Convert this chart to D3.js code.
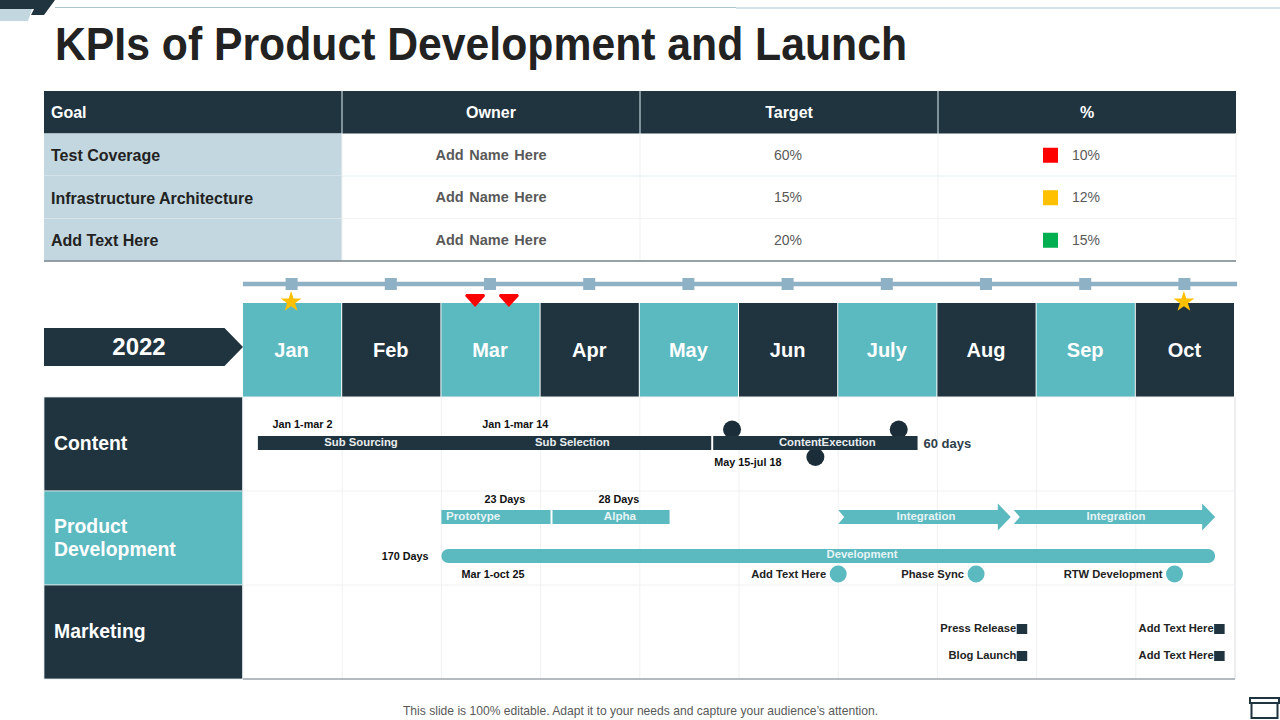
<!DOCTYPE html>
<html>
<head>
<meta charset="utf-8">
<script src="https://d3js.org/d3.v7.min.js"></script>
<style>
  html, body { margin: 0; padding: 0; background: #fff; }
  svg { display: block; }
  text { font-family: "Liberation Sans", Arial, sans-serif; }
</style>
</head>
<body>
<div id="chart"></div>
<script>
// table
var columns = ['Goal', 'Owner', 'Target', '%'];
var goals = ['Test Coverage', 'Infrastructure Architecture', 'Add Text Here'];
var owners = ['Add Name Here', 'Add Name Here', 'Add Name Here'];
var targets = ['60%', '15%', '20%'];
var actuals = ['10%', '12%', '15%'];
var statuses = ['red', 'amber', 'green'];

// timeline, all task positions are in months from Jan 1
var year = '2022';
var months = ['Jan', 'Feb', 'Mar', 'Apr', 'May', 'Jun', 'July', 'Aug', 'Sep', 'Oct'];
var starMonths = ['Jan', 'Oct'];
var flagDates = [2.34, 2.68];
var rows = ['Content', 'Product Development', 'Marketing'];

var contentBars = [
    { name: 'Sub Sourcing', start: 0.15, end: 2.31, labelAt: 1.19 },
    { name: 'Sub Selection', start: 2.3, end: 4.72, labelAt: 3.32 },
    { name: 'ContentExecution', start: 4.74, end: 6.8, labelAt: 5.89 }
];
var milestones = [
    { date: 4.93, lane: 'dotHigh' },
    { date: 6.61, lane: 'dotHigh' },
    { date: 5.77, lane: 'dotLow' }
];
var devBars = [
    { name: 'Prototype', start: 2.0, end: 3.1, labelAt: 2.32 },
    { name: 'Alpha', start: 3.12, end: 4.3, labelAt: 3.8 }
];
var arrows = [
    { name: 'Integration', start: 6.0, end: 7.74 },
    { name: 'Integration', start: 7.77, end: 9.8 }
];
var development = { name: 'Development', start: 2.0, end: 9.8, labelAt: 6.24 };
var devMarkers = [
    { name: 'Add Text Here', date: 6.0 },
    { name: 'Phase Sync', date: 7.39 },
    { name: 'RTW Development', date: 9.39 }
];
var launchMarkers = [
    { name: 'Press Release', date: 7.85, lane: 'pressRow' },
    { name: 'Blog Launch', date: 7.85, lane: 'blogRow' },
    { name: 'Add Text Here', date: 9.84, lane: 'pressRow' },
    { name: 'Add Text Here', date: 9.84, lane: 'blogRow' }
];
var notes = [
    { text: 'Jan 1-mar 2', date: 0.6, lane: 'noteTop', anchor: 'middle' },
    { text: 'Jan 1-mar 14', date: 2.745, lane: 'noteTop', anchor: 'middle' },
    { text: 'May 15-jul 18', date: 4.75, lane: 'noteBelow', anchor: 'start' },
    { text: '23 Days', date: 2.64, lane: 'daysTop', anchor: 'middle' },
    { text: '28 Days', date: 3.79, lane: 'daysTop', anchor: 'middle' },
    { text: '170 Days', date: 1.635, lane: 'dev', anchor: 'middle' },
    { text: 'Mar 1-oct 25', date: 2.52, lane: 'devBelow', anchor: 'middle' }
];

var dark = '#20343f', teal = '#5bb9c0', steel = '#8fb1c6', pale = '#c3d7e0', grid = '#f0f1f2';

var svg = d3.select('#chart').append('svg').attr('width', 1280).attr('height', 720);

// scales
var tableX = d3.scaleBand().domain(columns).range([44, 1236]);
var tableY = d3.scaleBand().domain(['head'].concat(goals)).range([91, 261]);
var statusColor = d3.scaleOrdinal().domain(statuses).range(['#ff0000', '#ffc000', '#00b050']);
var x = d3.scaleLinear().domain([0, months.length]).range([243, 1235]);
var rowY = d3.scaleBand().domain(rows).range([397, 679]);
var lane = d3.scaleOrdinal()
    .domain(['noteTop', 'dotHigh', 'content', 'dotLow', 'noteBelow', 'daysTop', 'sprint', 'dev', 'devBelow', 'pressRow', 'blogRow'])
    .range([424, 429.5, 443, 457, 462, 499, 517, 556, 574, 629, 656]);

function label(g, px, py, text, size, color, anchor, weight) {
    return g.append('text')
        .attr('x', px).attr('y', py)
        .attr('dy', '0.35em')
        .attr('text-anchor', anchor || 'middle')
        .attr('font-size', size)
        .attr('font-weight', weight || 'normal')
        .attr('fill', color)
        .text(text);
}

// slide decoration
var deco = svg.append('g');
deco.append('path').attr('d', 'M0,9H32L28,21H0Z').attr('fill', pale);
deco.append('path').attr('d', 'M0,0H55L44,15H31L34,9H0Z').attr('fill', dark);
deco.append('line').attr('x1', 55).attr('x2', 736).attr('y1', 7.5).attr('y2', 7.5).attr('stroke', '#a9c6d0').attr('stroke-width', 1);
deco.append('line').attr('x1', 736).attr('x2', 1280).attr('y1', 8).attr('y2', 8).attr('stroke', '#c3dbe0').attr('stroke-width', 1.5);

svg.append('text')
    .attr('x', 55).attr('y', 60)
    .attr('font-family', 'Lato, "Open Sans", sans-serif')
    .attr('font-size', 46).attr('font-weight', 700)
    .attr('fill', '#222')
    .attr('textLength', 852).attr('lengthAdjust', 'spacingAndGlyphs')
    .text('KPIs of Product Development and Launch');

// table
var table = svg.append('g');
table.selectAll('.head').data(columns).enter().append('rect')
    .attr('x', function (d) { return tableX(d); })
    .attr('y', tableY('head'))
    .attr('width', tableX.bandwidth())
    .attr('height', tableY.bandwidth())
    .attr('fill', dark);
columns.forEach(function (c, i) {
    if (i > 0) {
        table.append('line').attr('x1', tableX(c)).attr('x2', tableX(c))
            .attr('y1', 91).attr('y2', tableY.range()[0] + tableY.bandwidth())
            .attr('stroke', '#9fb0b8').attr('stroke-width', 1.5);
    }
    if (i === 0) {
        label(table, tableX(c) + 7, tableY('head') + tableY.bandwidth() / 2, c, 16, '#fff', 'start', 'bold');
    } else {
        label(table, tableX(c) + tableX.bandwidth() / 2, tableY('head') + tableY.bandwidth() / 2, c, 16, '#fff', 'middle', 'bold');
    }
});
goals.forEach(function (goal, i) {
    var rowTop = tableY(goal), mid = rowTop + tableY.bandwidth() / 2;
    table.append('rect').attr('x', tableX('Goal')).attr('y', rowTop)
        .attr('width', tableX.bandwidth()).attr('height', tableY.bandwidth())
        .attr('fill', pale);
    table.append('line').attr('x1', 44).attr('x2', 1236).attr('y1', rowTop + tableY.bandwidth()).attr('y2', rowTop + tableY.bandwidth())
        .attr('stroke', i === 0 ? '#e4eef2' : '#f1f2f3').attr('stroke-width', 1);
    label(table, tableX('Goal') + 7, mid + 1, goal, 16, '#222', 'start', 'bold');
    label(table, tableX('Owner') + tableX.bandwidth() / 2, mid, owners[i], 14.5, '#595959', 'middle', 'bold')
        .attr('word-spacing', 1.6);
    label(table, tableX('Target') + tableX.bandwidth() / 2 - 1, mid, targets[i], 14, '#595959');
    table.append('rect')
        .attr('x', tableX('%') + 105).attr('y', mid - 7)
        .attr('width', 15).attr('height', 15)
        .attr('fill', statusColor(statuses[i]));
    label(table, tableX('%') + 134, mid, actuals[i], 14, '#595959', 'start');
});
['Target', '%'].concat(['Owner']).forEach(function (c) {
    table.append('line').attr('x1', tableX(c)).attr('x2', tableX(c)).attr('y1', 133).attr('y2', 261).attr('stroke', grid);
});
table.append('line').attr('x1', 1236).attr('x2', 1236).attr('y1', 133).attr('y2', 261).attr('stroke', grid);
table.append('line').attr('x1', 44).attr('x2', 1236).attr('y1', 261).attr('y2', 261).attr('stroke', '#77838a').attr('stroke-width', 1.5);

// month header
var header = svg.append('g');
header.append('line').attr('x1', 243).attr('x2', 1237).attr('y1', 284).attr('y2', 284)
    .attr('stroke', steel).attr('stroke-width', 4.5);
header.selectAll('.tick-mark').data(months).enter().append('rect')
    .attr('x', function (d, i) { return x(i + 0.5) - 7; })
    .attr('y', 278).attr('width', 12).attr('height', 12)
    .attr('fill', steel);
header.selectAll('.month').data(months).enter().append('rect')
    .attr('x', function (d, i) { return x(i); })
    .attr('y', 303)
    .attr('width', x(1) - x(0) - 1)
    .attr('height', 94)
    .attr('fill', function (d, i) { return i % 2 ? dark : teal; });
header.selectAll('.month-name').data(months).enter().append('text')
    .attr('x', function (d, i) { return x(i + 0.5) - 1; })
    .attr('y', 350).attr('dy', '0.35em')
    .attr('text-anchor', 'middle')
    .attr('font-size', 20).attr('font-weight', 'bold')
    .attr('fill', '#fff')
    .text(function (d) { return d; });

// year tag
header.append('path').attr('d', 'M44,328H224.5L243,347L224.5,366H44Z').attr('fill', dark);
label(header, 139, 347, year, 24, '#fff', 'middle', 'bold');

// row grid
var gridG = svg.append('g');
months.forEach(function (m, i) {
    gridG.append('line').attr('x1', x(i)).attr('x2', x(i)).attr('y1', 397).attr('y2', 679).attr('stroke', grid);
});
gridG.append('line').attr('x1', x(10)).attr('x2', x(10)).attr('y1', 397).attr('y2', 679).attr('stroke', '#d9dde0');
rows.forEach(function (r) {
    gridG.append('line').attr('x1', 243).attr('x2', 1235).attr('y1', rowY(r)).attr('y2', rowY(r)).attr('stroke', grid);
});
gridG.append('line').attr('x1', 243).attr('x2', 1235).attr('y1', 679).attr('y2', 679).attr('stroke', '#9aa5ac').attr('stroke-width', 1.5);

// row names
var rowG = svg.append('g');
rows.forEach(function (r, i) {
    rowG.append('rect').attr('x', 44).attr('y', rowY(r)).attr('width', 198.5).attr('height', rowY.bandwidth())
        .attr('fill', i === 1 ? teal : dark)
        .attr('stroke', '#dfe8ec').attr('stroke-width', 0.8);
    var words = i === 1 ? r.split(' ') : [r];
    words.forEach(function (w, k) {
        label(rowG, 54, rowY(r) + rowY.bandwidth() / 2 + (k - (words.length - 1) / 2) * 23 - 0.5, w, 19.4, '#fff', 'start', 'bold');
    });
});

// markers over the month header
var marks = svg.append('g');
var starPath = d3.symbol().type(d3.symbolStar).size(135);
starMonths.forEach(function (m) {
    marks.append('path')
        .attr('transform', 'translate(' + (x(months.indexOf(m) + 0.5) - 1.5) + ',302)')
        .attr('d', starPath())
        .attr('fill', '#ffc000');
});
marks.selectAll('.flag').data(flagDates).enter().append('path')
    .attr('transform', function (d) { return 'translate(' + x(d) + ',294)'; })
    .attr('d', 'M-9,0H9L10,2L0,13L-10,2Z')
    .attr('fill', '#ff0000');

// gantt items
var gantt = svg.append('g');
gantt.selectAll('.dot').data(milestones).enter().append('ellipse')
    .attr('cx', function (d) { return x(d.date); })
    .attr('cy', function (d) { return lane(d.lane); })
    .attr('rx', 9).attr('ry', 9)
    .attr('fill', '#1b2d38');
contentBars.forEach(function (b) {
    gantt.append('rect').attr('x', x(b.start)).attr('y', lane('content') - 7)
        .attr('width', x(b.end) - x(b.start)).attr('height', 14).attr('fill', dark);
});
contentBars.forEach(function (b) {
    label(gantt, x(b.labelAt), lane('content') - 1, b.name, 11.3, '#e8eef0', 'middle', 'bold');
});
label(gantt, x(6.86), lane('content'), '60 days', 13, '#2f3e4a', 'start', 'bold');

devBars.forEach(function (b) {
    gantt.append('rect').attr('x', x(b.start)).attr('y', lane('sprint') - 7)
        .attr('width', x(b.end) - x(b.start)).attr('height', 14).attr('fill', teal);
    label(gantt, x(b.labelAt), lane('sprint') - 1, b.name, 11.6, '#e6f4f5', 'middle', 'bold');
});
arrows.forEach(function (a) {
    var x0 = x(a.start), x1 = x(a.end), y = lane('sprint');
    var p = d3.path();
    p.moveTo(x0, y - 7);
    p.lineTo(x1 - 13, y - 7);
    p.lineTo(x1 - 13, y - 13.5);
    p.lineTo(x1, y);
    p.lineTo(x1 - 13, y + 13.5);
    p.lineTo(x1 - 13, y + 7);
    p.lineTo(x0, y + 7);
    p.lineTo(x0 + 6, y);
    p.closePath();
    gantt.append('path').attr('d', p.toString()).attr('fill', teal);
    label(gantt, (x0 + x1) / 2 + 1.5, y - 1, a.name, 11.4, '#e6f4f5', 'middle', 'bold');
});
gantt.append('rect').attr('x', x(development.start)).attr('y', lane('dev') - 7)
    .attr('width', x(development.end) - x(development.start)).attr('height', 14)
    .attr('rx', 7).attr('fill', teal);
label(gantt, x(development.labelAt), lane('dev') - 2, development.name, 11.3, '#e6f4f5', 'middle', 'bold');

devMarkers.forEach(function (d) {
    gantt.append('circle').attr('cx', x(d.date)).attr('cy', lane('devBelow')).attr('r', 8.5).attr('fill', teal);
    label(gantt, x(d.date) - 12, lane('devBelow'), d.name, 11.2, '#222', 'end', 'bold');
});
launchMarkers.forEach(function (d) {
    gantt.append('rect').attr('x', x(d.date) - 5).attr('y', lane(d.lane) - 5)
        .attr('width', 10.5).attr('height', 10).attr('fill', dark);
    label(gantt, x(d.date) - 5.5, lane(d.lane) - 1, d.name, 11.2, '#222', 'end', 'bold');
});
notes.forEach(function (n) {
    label(gantt, x(n.date), lane(n.lane), n.text, 10.8, '#111', n.anchor, 'bold');
});

// footer
label(svg, 640.5, 711, 'This slide is 100% editable. Adapt it to your needs and capture your audience\u2019s attention.', 12.1, '#595959');
var icon = svg.append('g').attr('fill', 'none').attr('stroke', dark).attr('stroke-width', 2);
icon.append('rect').attr('x', 1250).attr('y', 698).attr('width', 29).attr('height', 5);
icon.append('rect').attr('x', 1251.5).attr('y', 703).attr('width', 26).attr('height', 15);
</script>
</body>
</html>
